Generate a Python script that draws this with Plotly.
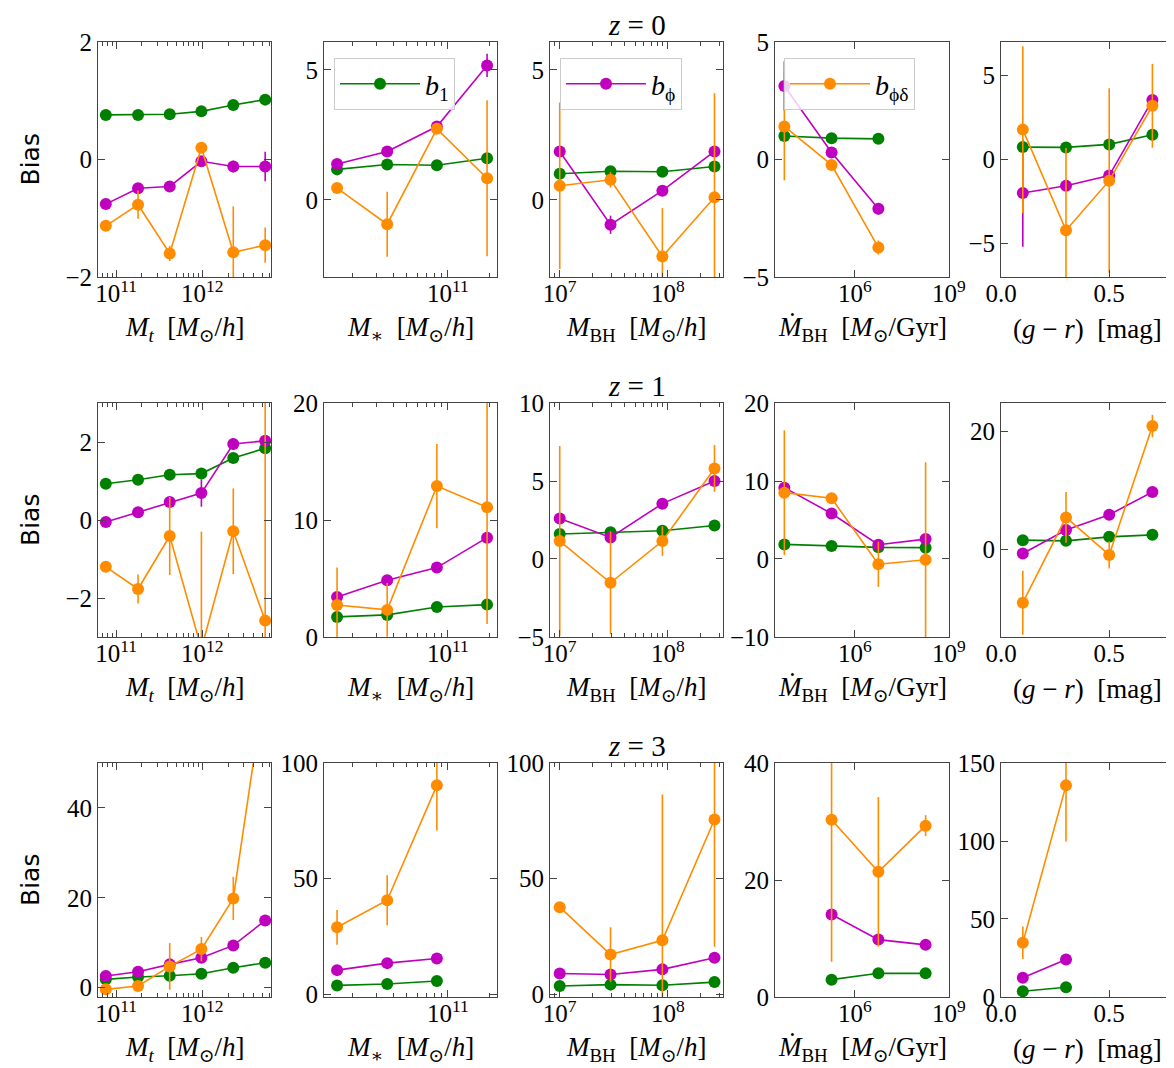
import plotly.graph_objects as go

W, H = 1174, 1068

# ---------------- bin centres ----------------
x_Mt = [7.6e10, 1.8e11, 4.2e11, 9.8e11, 2.3e12, 5.4e12]
x_Mstar = [1.55e10, 3.6e10, 8.3e10, 1.93e11]
x_MBH = [1.0e7, 2.95e7, 8.9e7, 2.7e8]
x_Mdot = [5.6e3, 1.8e5, 5.6e6, 1.8e8]
x_gr = [0.1, 0.3, 0.5, 0.7]

# ---------------- z = 0 ----------------
z0_Mt_b1 = [0.76, 0.76, 0.77, 0.82, 0.93, 1.02]
z0_Mt_b1_err = [0.02, 0.02, 0.02, 0.02, 0.03, 0.04]
z0_Mt_bphi = [-0.76, -0.49, -0.46, -0.03, -0.12, -0.12]
z0_Mt_bphi_err = [0.06, 0.06, 0.07, 0.08, 0.10, 0.25]
z0_Mt_bpd = [-1.13, -0.77, -1.60, 0.20, -1.58, -1.46]
z0_Mt_bpd_err = [0.09, 0.24, 0.13, 0.05, 0.78, 0.30]

z0_Ms_b1 = [1.17, 1.36, 1.33, 1.60]
z0_Ms_b1_err = [0.05, 0.05, 0.06, 0.10]
z0_Ms_bphi = [1.38, 1.86, 2.82, 5.17]
z0_Ms_bphi_err = [0.10, 0.10, 0.15, 0.45]
z0_Ms_bpd = [0.45, -0.94, 2.73, 0.83]
z0_Ms_bpd_err = [0.10, 1.25, 0.12, 3.0]

z0_MBH_b1 = [1.00, 1.10, 1.08, 1.28]
z0_MBH_b1_err = [0.05, 0.05, 0.05, 0.08]
z0_MBH_bphi = [1.86, -0.96, 0.35, 1.86]
z0_MBH_bphi_err = [0.15, 0.35, 0.10, 0.15]
z0_MBH_bpd = [0.54, 0.77, -2.18, 0.10]
z0_MBH_bpd_err = [3.2, 0.30, 1.86, 4.0]

z0_Md_b1 = [1.00, 0.91, 0.88, None]
z0_Md_b1_err = [0.05, 0.03, 0.03, None]
z0_Md_bphi = [3.13, 0.30, -2.10, None]
z0_Md_bphi_err = [1.05, 0.10, 0.25, None]
z0_Md_bpd = [1.41, -0.23, -3.75, None]
z0_Md_bpd_err = [2.3, 0.10, 0.30, None]

z0_gr_b1 = [0.74, 0.72, 0.90, 1.48]
z0_gr_b1_err = [0.10, 0.10, 0.10, 0.10]
z0_gr_bphi = [-2.00, -1.56, -0.96, 3.54]
z0_gr_bphi_err = [3.2, 0.20, 0.20, 0.20]
z0_gr_bpd = [1.78, -4.22, -1.26, 3.20]
z0_gr_bpd_err = [4.96, 4.9, 5.5, 2.5]

# ---------------- z = 1 ----------------
z1_Mt_b1 = [0.93, 1.03, 1.16, 1.19, 1.59, 1.84]
z1_Mt_b1_err = [0.03, 0.03, 0.04, 0.05, 0.06, 0.08]
z1_Mt_bphi = [-0.05, 0.20, 0.46, 0.69, 1.95, 2.03]
z1_Mt_bphi_err = [0.05, 0.06, 0.08, 0.35, 0.15, 0.10]
z1_Mt_bpd = [-1.20, -1.77, -0.41, -3.3, -0.29, -2.58]
z1_Mt_bpd_err = [0.08, 0.37, 1.0, 3.0, 1.1, 6.0]

z1_Ms_b1 = [1.71, 1.88, 2.56, 2.76]
z1_Ms_b1_err = [0.10, 0.10, 0.15, 0.20]
z1_Ms_bphi = [3.42, 4.84, 5.93, 8.49]
z1_Ms_bphi_err = [0.20, 0.20, 0.40, 0.30]
z1_Ms_bpd = [2.73, 2.31, 12.9, 11.1]
z1_Ms_bpd_err = [3.2, 2.3, 3.6, 10.0]

z1_MBH_b1 = [1.60, 1.72, 1.81, 2.15]
z1_MBH_b1_err = [0.10, 0.10, 0.10, 0.10]
z1_MBH_bphi = [2.60, 1.38, 3.55, 5.00]
z1_MBH_bphi_err = [0.20, 0.30, 0.20, 0.40]
z1_MBH_bpd = [1.15, -1.53, 1.15, 5.81]
z1_MBH_bpd_err = [6.1, 3.3, 0.95, 1.5]

z1_Md_b1 = [1.87, 1.66, 1.49, 1.45]
z1_Md_b1_err = [0.10, 0.10, 0.10, 0.10]
z1_Md_bphi = [9.15, 5.83, 1.83, 2.55]
z1_Md_bphi_err = [0.30, 0.30, 0.30, 0.30]
z1_Md_bpd = [8.51, 7.79, -0.68, -0.09]
z1_Md_bpd_err = [8.0, 0.40, 2.9, 12.5]

z1_gr_b1 = [1.59, 1.47, 2.15, 2.49]
z1_gr_b1_err = [0.20, 0.20, 0.20, 0.20]
z1_gr_bphi = [-0.68, 3.29, 5.89, 9.75]
z1_gr_bphi_err = [0.30, 0.30, 0.30, 0.30]
z1_gr_bpd = [-9.0, 5.44, -0.91, 20.9]
z1_gr_bpd_err = [5.4, 4.3, 2.3, 1.9]

# ---------------- z = 3 ----------------
z3_Mt_b1 = [1.85, 2.37, 2.67, 3.11, 4.44, 5.56]
z3_Mt_b1_err = [0.10, 0.10, 0.10, 0.15, 0.20, 0.30]
z3_Mt_bphi = [2.59, 3.56, 5.19, 6.67, 9.41, 14.96]
z3_Mt_bphi_err = [0.20, 0.20, 0.30, 0.40, 0.50, 0.60]
z3_Mt_bpd = [-0.37, 0.37, 4.74, 8.59, 19.85, 68.0]
z3_Mt_bpd_err = [0.5, 1.0, 5.2, 2.7, 4.8, 10.0]

z3_Ms_b1 = [3.87, 4.45, 5.74, None]
z3_Ms_b1_err = [0.30, 0.30, 0.40, None]
z3_Ms_bphi = [10.47, 13.5, 15.5, None]
z3_Ms_bphi_err = [0.50, 0.50, 0.60, None]
z3_Ms_bpd = [29.0, 40.7, 90.4, None]
z3_Ms_bpd_err = [7.5, 10.8, 19.5, None]

z3_MBH_b1 = [3.6, 4.2, 3.9, 5.3]
z3_MBH_b1_err = [0.30, 0.30, 0.30, 0.40]
z3_MBH_bphi = [9.0, 8.6, 10.8, 15.8]
z3_MBH_bphi_err = [0.50, 0.50, 0.60, 0.80]
z3_MBH_bpd = [37.7, 17.2, 23.4, 75.6]
z3_MBH_bpd_err = [1.0, 11.8, 63.0, 55.0]

z3_Md_b1 = [None, 2.95, 4.03, 4.03]
z3_Md_b1_err = [None, 0.20, 0.20, 0.20]
z3_Md_bphi = [None, 14.1, 9.8, 8.9]
z3_Md_bphi_err = [None, 0.50, 0.80, 0.40]
z3_Md_bpd = [None, 30.3, 21.4, 29.3]
z3_Md_bpd_err = [None, 24.3, 12.8, 1.8]

z3_gr_b1 = [3.6, 6.2, None, None]
z3_gr_b1_err = [0.40, 0.50, None, None]
z3_gr_bphi = [12.3, 24.0, None, None]
z3_gr_bphi_err = [1.0, 1.5, None, None]
z3_gr_bpd = [34.7, 135.7, None, None]
z3_gr_bpd_err = [10.4, 36.0, None, None]

# tick labels / text
redshift_labels = ["0", "1", "3"]
legend_names = ["<i>b</i><sub>1</sub>", "<i>b</i><sub>ϕ</sub>", "<i>b</i><sub>ϕδ</sub>"]
x_titles = [
    "<i>M<sub>t</sub></i>\u00a0\u00a0[<i>M</i><sub>⊙</sub>/<i>h</i>]",
    "<i>M</i><sub>∗</sub>\u00a0\u00a0[<i>M</i><sub>⊙</sub>/<i>h</i>]",
    "<i>M</i><sub>BH</sub>\u00a0\u00a0[<i>M</i><sub>⊙</sub>/<i>h</i>]",
    "<i>Ṁ</i><sub>BH</sub>\u00a0\u00a0[<i>M</i><sub>⊙</sub>/Gyr]",
    "(<i>g</i> − <i>r</i>)\u00a0\u00a0[mag]",
]

rows_data = [
    [(x_Mt, z0_Mt_b1, z0_Mt_b1_err, z0_Mt_bphi, z0_Mt_bphi_err, z0_Mt_bpd, z0_Mt_bpd_err),
     (x_Mstar, z0_Ms_b1, z0_Ms_b1_err, z0_Ms_bphi, z0_Ms_bphi_err, z0_Ms_bpd, z0_Ms_bpd_err),
     (x_MBH, z0_MBH_b1, z0_MBH_b1_err, z0_MBH_bphi, z0_MBH_bphi_err, z0_MBH_bpd, z0_MBH_bpd_err),
     (x_Mdot, z0_Md_b1, z0_Md_b1_err, z0_Md_bphi, z0_Md_bphi_err, z0_Md_bpd, z0_Md_bpd_err),
     (x_gr, z0_gr_b1, z0_gr_b1_err, z0_gr_bphi, z0_gr_bphi_err, z0_gr_bpd, z0_gr_bpd_err)],
    [(x_Mt, z1_Mt_b1, z1_Mt_b1_err, z1_Mt_bphi, z1_Mt_bphi_err, z1_Mt_bpd, z1_Mt_bpd_err),
     (x_Mstar, z1_Ms_b1, z1_Ms_b1_err, z1_Ms_bphi, z1_Ms_bphi_err, z1_Ms_bpd, z1_Ms_bpd_err),
     (x_MBH, z1_MBH_b1, z1_MBH_b1_err, z1_MBH_bphi, z1_MBH_bphi_err, z1_MBH_bpd, z1_MBH_bpd_err),
     (x_Mdot, z1_Md_b1, z1_Md_b1_err, z1_Md_bphi, z1_Md_bphi_err, z1_Md_bpd, z1_Md_bpd_err),
     (x_gr, z1_gr_b1, z1_gr_b1_err, z1_gr_bphi, z1_gr_bphi_err, z1_gr_bpd, z1_gr_bpd_err)],
    [(x_Mt, z3_Mt_b1, z3_Mt_b1_err, z3_Mt_bphi, z3_Mt_bphi_err, z3_Mt_bpd, z3_Mt_bpd_err),
     (x_Mstar, z3_Ms_b1, z3_Ms_b1_err, z3_Ms_bphi, z3_Ms_bphi_err, z3_Ms_bpd, z3_Ms_bpd_err),
     (x_MBH, z3_MBH_b1, z3_MBH_b1_err, z3_MBH_bphi, z3_MBH_bphi_err, z3_MBH_bpd, z3_MBH_bpd_err),
     (x_Mdot, z3_Md_b1, z3_Md_b1_err, z3_Md_bphi, z3_Md_bphi_err, z3_Md_bpd, z3_Md_bpd_err),
     (x_gr, z3_gr_b1, z3_gr_b1_err, z3_gr_bphi, z3_gr_bphi_err, z3_gr_bpd, z3_gr_bpd_err)],
]

# ---------------- styling / layout ----------------
colors = ["#008000", "#bf00bf", "#ff8c00"]
col_px = [(90, 263), (316, 489), (542, 715), (767, 941), (993, 1166)]
row_px = [(34, 269), (395, 629), (755, 989)]

y_ranges = [[-2.002, 2.002], [-2.97, 6.07], [-2.97, 6.07], [-5.005, 5.005], [-7.0, 7.0],
            [-3.0, 3.0], [-0.01, 20.01], [-5.01, 10.01], [-10.01, 20.01], [-14.8, 24.8],
            [-2.07, 50.0], [-1.15, 100.05], [-1.15, 100.05], [-0.02, 40.02], [-0.05, 150.05]]
y_ticks = [[-2, 0, 2], [0, 5], [0, 5], [-5, 0, 5], [-5, 0, 5],
           [-2, 0, 2], [0, 10, 20], [-5, 0, 5, 10], [-10, 0, 10, 20], [0, 20],
           [0, 20, 40], [0, 50, 100], [0, 50, 100], [0, 20, 40], [0, 50, 100, 150]]


def minor_log(decades, lo, hi):
    return [m * 10.0 ** e for e in decades for m in range(2, 10) if lo <= m * 10.0 ** e <= hi]


x_specs = [
    dict(type="log", range=[10.79, 12.80], tickvals=[1e11, 1e12],
         ticktext=["10<sup>11</sup>", "10<sup>12</sup>"], minor=minor_log([10, 11, 12], 6.2e10, 6.3e12)),
    dict(type="log", range=[10.095, 11.358], tickvals=[1e11],
         ticktext=["10<sup>11</sup>"], minor=minor_log([10, 11], 1.2e10, 2.3e11)),
    dict(type="log", range=[6.91, 8.51], tickvals=[1e7, 1e8],
         ticktext=["10<sup>7</sup>", "10<sup>8</sup>"], minor=minor_log([6, 7, 8], 8.1e6, 3.2e8)),
    dict(type="log", range=[3.45, 9.002], tickvals=[1e6, 1e9],
         ticktext=["10<sup>6</sup>", "10<sup>9</sup>"], minor=None),
    dict(type="linear", range=[-0.001, 0.8], tickvals=[0, 0.5],
         ticktext=["0.0", "0.5"], minor=None),
]

SERIF = "Liberation Serif, DejaVu Serif, Times New Roman, serif"
AX = "#444444"
tickfont = dict(family=SERIF, size=25, color="black")
fig = go.Figure()
layout = dict(template="none", width=W, height=H, margin=dict(l=0, r=0, t=0, b=0, autoexpand=False),
              plot_bgcolor="white", paper_bgcolor="white", showlegend=True,
              font=dict(family=SERIF, color="black"))
annotations = []

legend_ids = ["legend", "legend2", "legend3"]

for r in range(3):
    for c in range(5):
        k = r * 5 + c + 1
        xa = "x" if k == 1 else f"x{k}"
        ya = "y" if k == 1 else f"y{k}"
        xs, b1, b1e, bp, bpe, bpd, bpde = rows_data[r][c]
        for s, (yy, ee) in enumerate([(b1, b1e), (bp, bpe), (bpd, bpde)]):
            show = (r == 0 and c == 0)
            fig.add_trace(go.Scatter(
                x=xs, y=yy, mode="lines+markers", xaxis=xa, yaxis=ya,
                name=legend_names[s], legend=legend_ids[s], showlegend=show,
                line=dict(color=colors[s], width=1.6),
                marker=dict(color=colors[s], size=12, line=dict(width=0)),
                error_y=dict(type="data", array=ee, visible=True, color=colors[s],
                             thickness=1.6, width=0),
            ))
        xs_ = x_specs[c]
        x0, x1 = col_px[c]
        y0, y1 = row_px[r]
        xaxis = dict(domain=[x0 / W, x1 / W], anchor=ya, type=xs_["type"], range=xs_["range"],
                     automargin=False, ticklabelstandoff=-6,
                     tickmode="array", tickvals=xs_["tickvals"], ticktext=xs_["ticktext"],
                     ticks="inside", ticklen=7, tickwidth=1, tickcolor=AX,
                     showline=True, linecolor=AX, linewidth=1, mirror="allticks",
                     showgrid=False, zeroline=False, tickfont=tickfont)
        if xs_["minor"]:
            xaxis["minor"] = dict(tickmode="array", tickvals=xs_["minor"], ticks="inside",
                                  ticklen=4, tickwidth=1, tickcolor=AX, showgrid=False)
        yt = y_ticks[k - 1]
        yaxis = dict(domain=[1 - y1 / H, 1 - y0 / H], anchor=xa, range=y_ranges[k - 1],
                     automargin=False,
                     tickmode="array", tickvals=yt,
                     ticktext=[str(v).replace("-", "−") for v in yt],
                     ticks="inside", ticklen=7, tickwidth=1, tickcolor=AX,
                     showline=True, linecolor=AX, linewidth=1, mirror="allticks",
                     showgrid=False, zeroline=False, tickfont=tickfont)
        layout["xaxis" if k == 1 else f"xaxis{k}"] = xaxis
        layout["yaxis" if k == 1 else f"yaxis{k}"] = yaxis
        # x-axis title
        annotations.append(dict(x=(x0 + x1) / 2 / W, y=1 - (y1 + 52) / H, xref="paper", yref="paper",
                                text=x_titles[c], showarrow=False, xanchor="center", yanchor="middle",
                                font=dict(family=SERIF, size=27, color="black")))
    y0, y1 = row_px[r]
    annotations.append(dict(x=22 / W, y=1 - (y0 + y1) / 2 / H, xref="paper", yref="paper",
                            text="Bias", textangle=-90, showarrow=False,
                            xanchor="center", yanchor="middle",
                            font=dict(family="DejaVu Sans", size=25, color="black")))
    annotations.append(dict(x=(542 + 715) / 2 / W, y=1 - (y0 - 17) / H, xref="paper", yref="paper",
                            text="<i>z</i> = " + redshift_labels[r], showarrow=False,
                            xanchor="center", yanchor="middle",
                            font=dict(family=SERIF, size=29, color="black")))

layout["annotations"] = annotations
leg_pos = [326, 552, 776]
for i, lid in enumerate(legend_ids):
    layout[lid] = dict(x=leg_pos[i] / W, y=1 - 50 / H, xanchor="left", yanchor="top",
                       bgcolor="rgba(255,255,255,0.8)", bordercolor="#cccccc", borderwidth=1,
                       font=dict(family=SERIF, size=28, color="black"),
                       itemwidth=80)

fig.update_layout(**layout)
fig.write_html("out.html")
